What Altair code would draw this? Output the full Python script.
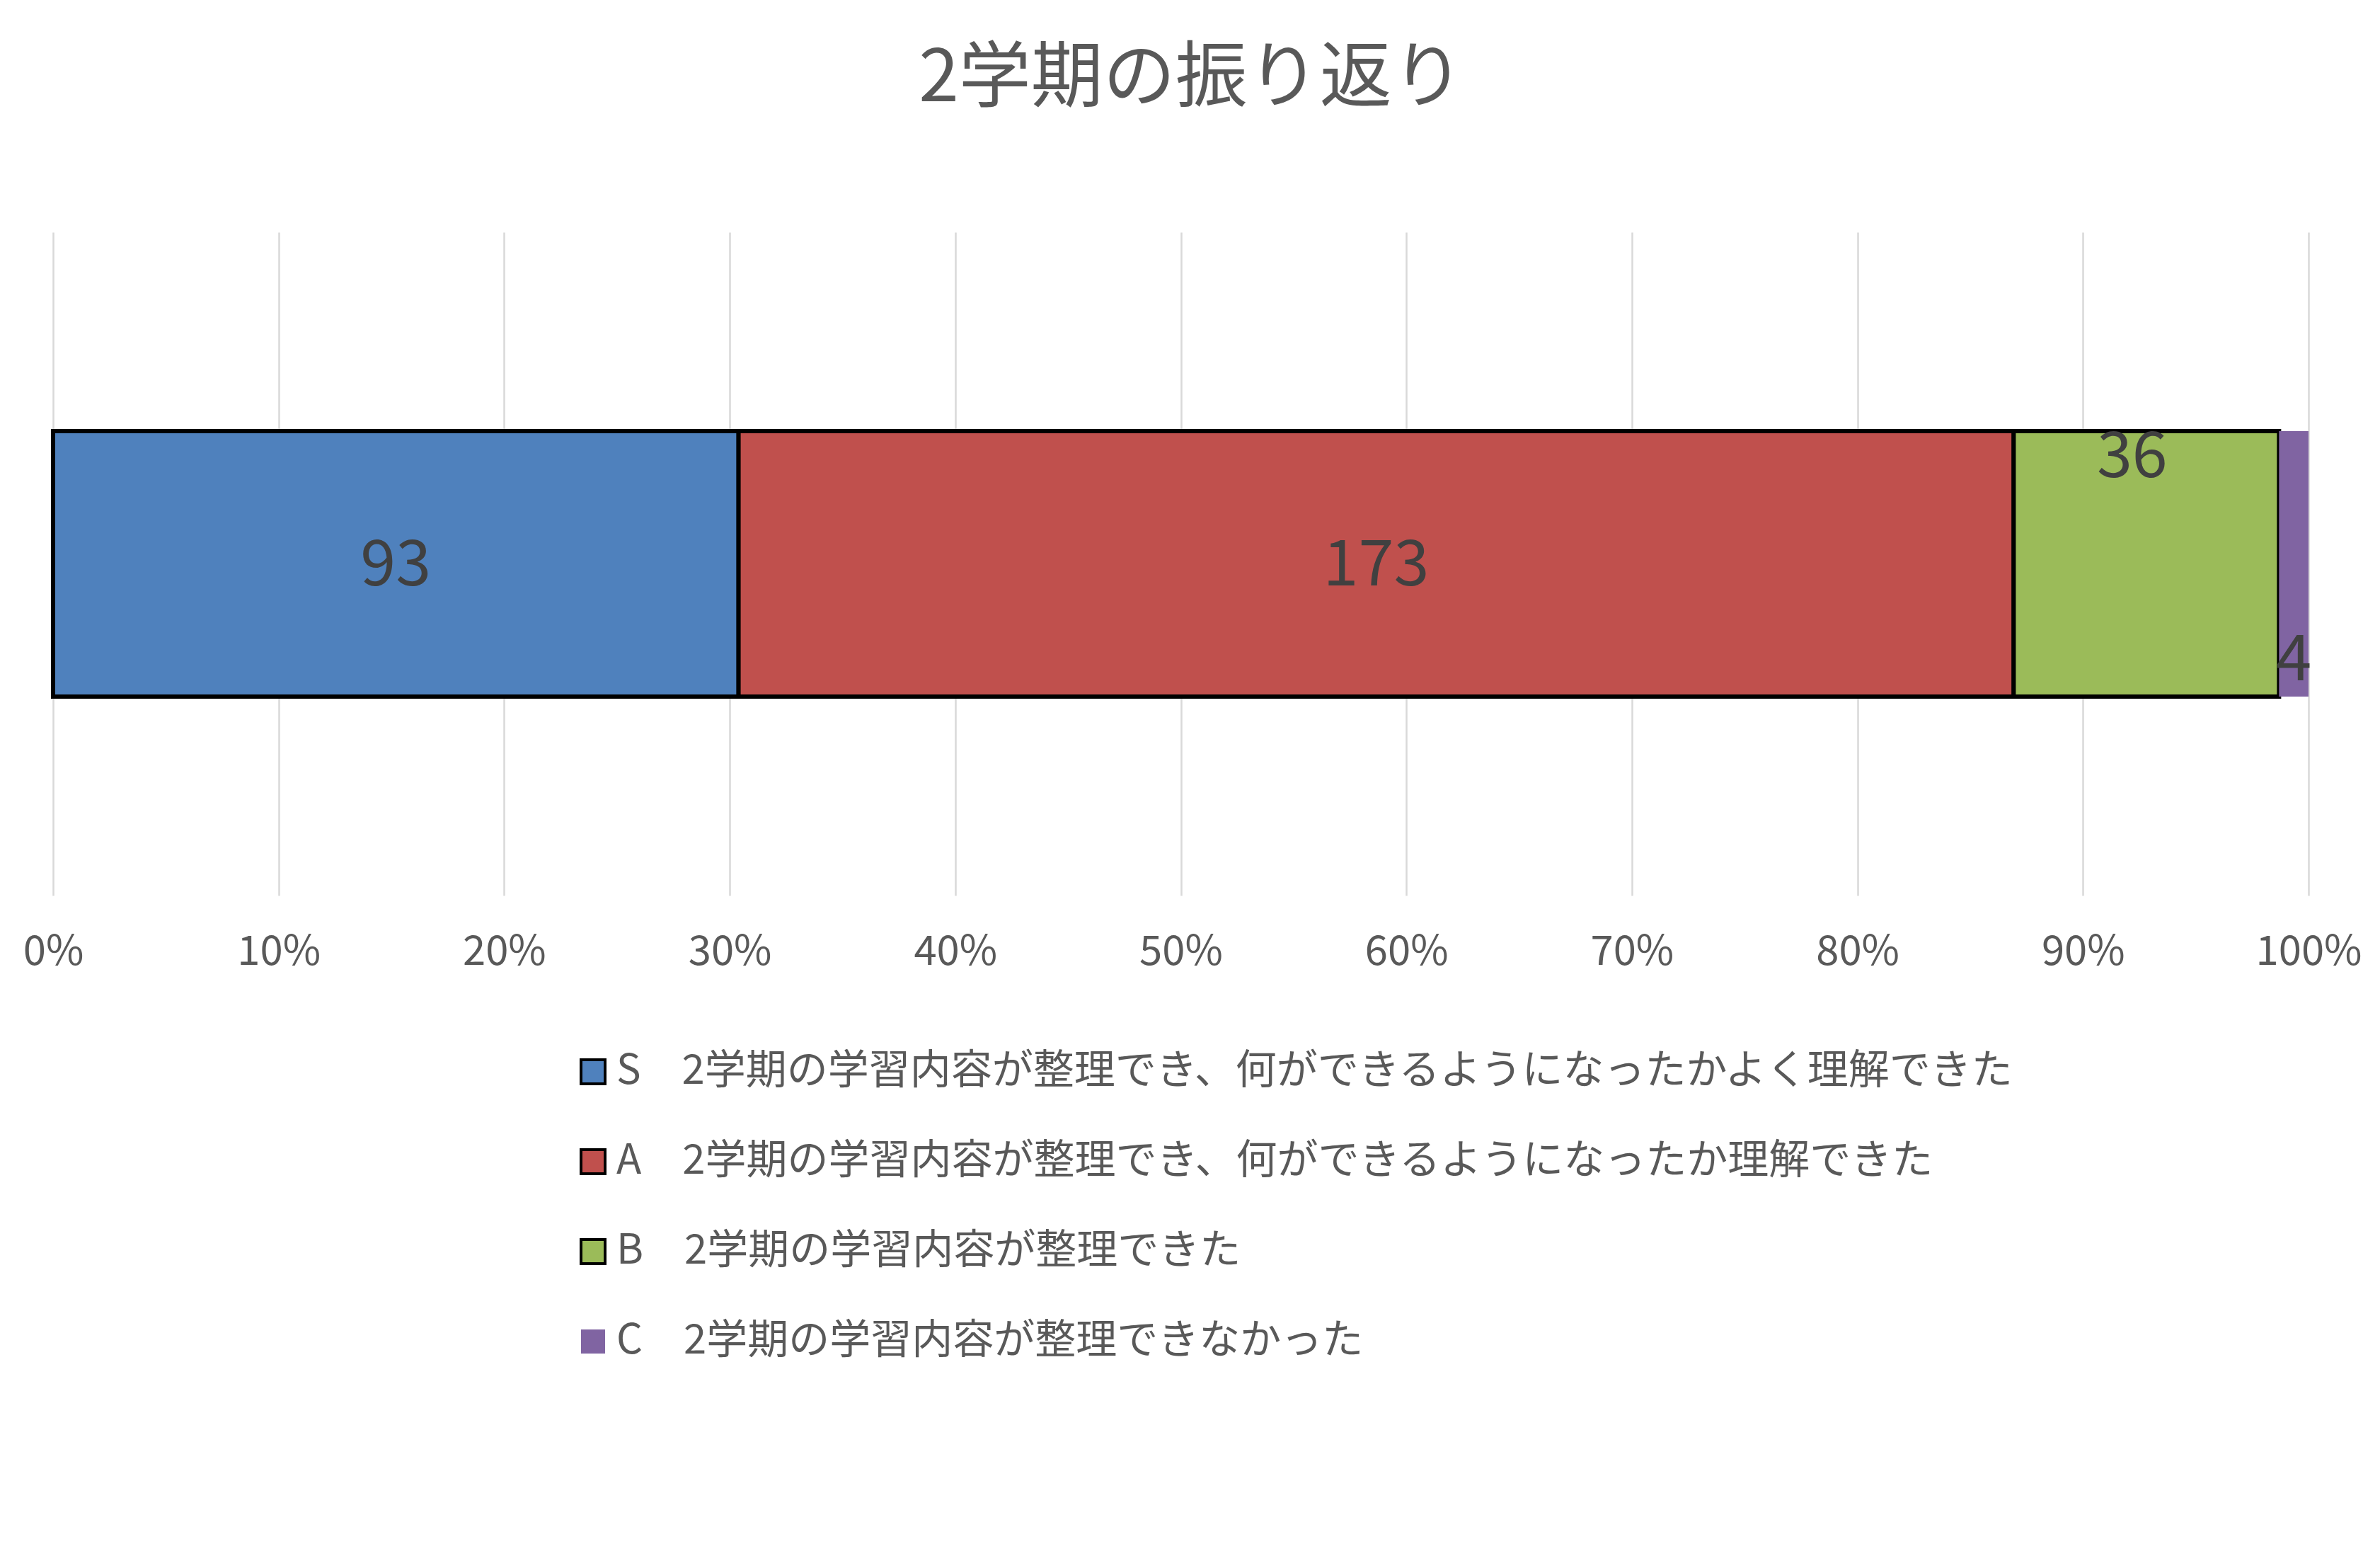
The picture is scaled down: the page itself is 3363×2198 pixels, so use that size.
import altair as alt
import pandas as pd

title_text = "2学期の振り返り"
categories = [
    "S　2学期の学習内容が整理でき、何ができるようになったかよく理解できた",
    "A　2学期の学習内容が整理でき、何ができるようになったか理解できた",
    "B　2学期の学習内容が整理できた",
    "C　2学期の学習内容が整理できなかった",
]
counts = [93, 173, 36, 4]
order = [0, 1, 2, 3]
fill_colors = ["#4F81BD", "#C0504D", "#9BBB59", "#8064A2"]
stroke_colors = ["#000000", "#000000", "#000000", "transparent"]
tick_values = [0, 0.1, 0.2, 0.3, 0.4, 0.5, 0.6, 0.7, 0.8, 0.9, 1.0]

df = pd.DataFrame({"cat": categories, "count": counts, "order": order, "row": ["r"] * 4})

FONT = "Noto Sans CJK JP"

legend = alt.Legend(
    title=None, orient="none", legendX=734, legendY=1157, direction="vertical",
    symbolType="square", symbolSize=1156, symbolStrokeWidth=4,
    labelFontSize=58, labelFont=FONT, labelColor="#595959", labelOffset=4,
    rowPadding=69, padding=0, labelLimit=3000,
)

xscale = alt.Scale(domain=[0, 1], nice=False)
yscale = alt.Scale(paddingOuter=0.75, paddingInner=0)

base = alt.Chart(df)

bars = base.mark_bar(strokeWidth=6).encode(
    x=alt.X("count:Q", stack="normalize", scale=xscale, title=None,
            axis=alt.Axis(format=".0%", values=tick_values, grid=True, ticks=False, domain=False,
                          labelFontSize=58, labelFont=FONT, labelColor="#595959", labelPadding=51,
                          labelFlush=False, labelBound=False, labelOverlap=False,
                          gridColor="#D9D9D9", gridWidth=2.5)),
    y=alt.Y("row:N", axis=None, scale=yscale),
    fill=alt.Fill("cat:N", scale=alt.Scale(domain=categories, range=fill_colors), legend=legend),
    stroke=alt.Stroke("cat:N", scale=alt.Scale(domain=categories, range=stroke_colors), legend=legend),
    order=alt.Order("order:Q"),
)

lab = base.transform_stack(
    stack="count", groupby=["row"], as_=["x0", "x1"], offset="normalize",
    sort=[alt.SortField("order")],
).transform_calculate(mid="(datum.x0 + datum.x1) / 2")

mid_labels = lab.transform_filter("datum.order <= 1").mark_text(
    fontSize=90, font=FONT, color="#404040", baseline="middle", dy=3
).encode(x=alt.X("mid:Q", scale=xscale), y=alt.Y("row:N", scale=yscale, axis=None), text="count:Q")

top_label = lab.transform_filter("datum.order == 2").mark_text(
    fontSize=90, font=FONT, color="#404040", baseline="top", dy=-6, dx=-20
).encode(x=alt.X("mid:Q", scale=xscale), y=alt.Y("row:N", scale=yscale, axis=None, bandPosition=0), text="count:Q")

bottom_label = lab.transform_filter("datum.order == 3").mark_text(
    fontSize=90, font=FONT, color="#404040", baseline="alphabetic", dy=-23
).encode(x=alt.X("mid:Q", scale=xscale), y=alt.Y("row:N", scale=yscale, axis=None, bandPosition=1), text="count:Q")

chart = alt.layer(bars, mid_labels, top_label, bottom_label).properties(
    width=3187, height=937,
    background="white",
    title=alt.TitleParams(title_text, font=FONT, fontSize=102, fontWeight="normal", color="#595959",
                          anchor="middle", frame="group", baseline="alphabetic", offset=83, dx=15),
    autosize=alt.AutoSizeParams(type="none"),
    padding={"left": 67, "top": 320, "right": 93, "bottom": 925},
).configure_view(stroke=None)

chart.save("out.html", embed_options={"renderer": "svg", "actions": False})
